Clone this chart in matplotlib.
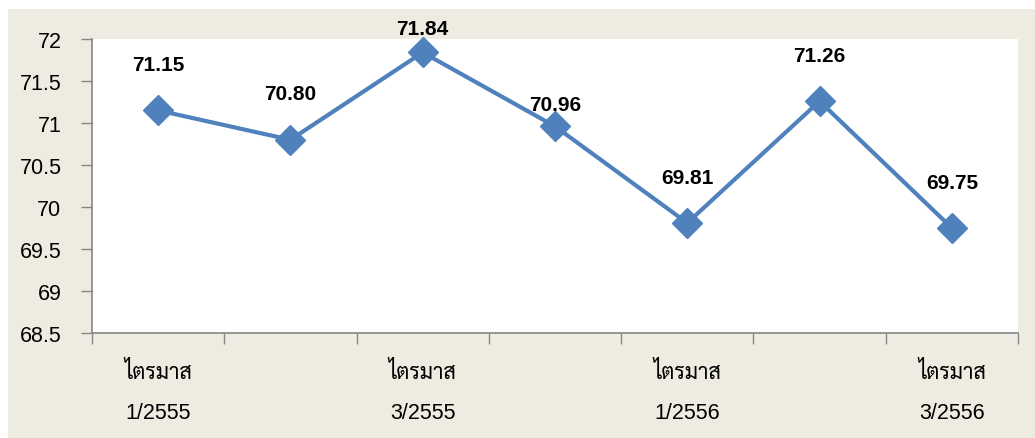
import matplotlib
matplotlib.use("Agg")
import matplotlib.pyplot as plt
from matplotlib.patches import Rectangle

# police : chiffres en Liberation Sans (type Arial), thaï en Sarabun
plt.rcParams['font.family'] = ['Liberation Sans', 'Sarabun', 'DejaVu Sans']

# données
valeurs = [71.15, 70.80, 71.84, 70.96, 69.81, 71.26, 69.75]
etiquettes_x = ["ไตรมาส\n1/2555", "", "ไตรมาส\n3/2555", "", "ไตรมาส\n1/2556", "", "ไตรมาส\n3/2556"]
y_ticks = [68.5, 69, 69.5, 70, 70.5, 71, 71.5, 72]
y_labels = ["68.5", "69", "69.5", "70", "70.5", "71", "71.5", "72"]

# décalage vertical des étiquettes (en points)
decalages = [33, 33, 17, 16, 33, 33, 33]

bleu = '#4F81BD'
beige = '#EEECE1'
gris = '#868686'

W, H = 1035, 439
fig = plt.figure(figsize=(W / 100, H / 100), dpi=100)
fig.patch.set_facecolor('white')
fig.patches.append(Rectangle((8 / W, 0), 1 - 8 / W, (H - 10) / H,
                             transform=fig.transFigure, facecolor=beige,
                             edgecolor='none', zorder=-1))

ax = fig.add_axes([92 / W, (H - 334) / H, (1018 - 92) / W, (334 - 40) / H])
ax.set_facecolor('white')

x = list(range(len(valeurs)))
ax.plot(x, valeurs, color=bleu, linewidth=3, marker='D', markersize=15,
        markerfacecolor=bleu, markeredgecolor=bleu, zorder=3, clip_on=False)

for xi, v, d in zip(x, valeurs, decalages):
    ax.annotate(f"{v:.2f}", (xi, v), xytext=(0, d), textcoords='offset points',
                ha='center', va='center', fontsize=15, fontweight='bold')

ax.set_xlim(-0.5, len(valeurs) - 0.5)
ax.set_ylim(68.5, 72)

# graduations majeures aux limites des catégories, libellés en mineur
ax.set_xticks([i - 0.5 for i in range(len(valeurs) + 1)])
ax.set_xticklabels([])
ax.set_xticks(x, minor=True)
ax.set_xticklabels(etiquettes_x, minor=True, fontsize=15.5, linespacing=2.2)
ax.tick_params(axis='x', which='major', length=8, width=1, color=gris, direction='out')
ax.tick_params(axis='x', which='minor', length=0, pad=20)

ax.set_yticks(y_ticks)
ax.set_yticklabels(y_labels, fontsize=15.5)
ax.tick_params(axis='y', length=8, width=1, color=gris, direction='out', pad=14)

for s in ['top', 'right']:
    ax.spines[s].set_visible(False)
for s in ['left', 'bottom']:
    ax.spines[s].set_color(gris)
    ax.spines[s].set_linewidth(1.2)

fig.savefig("out.png", dpi=100)
